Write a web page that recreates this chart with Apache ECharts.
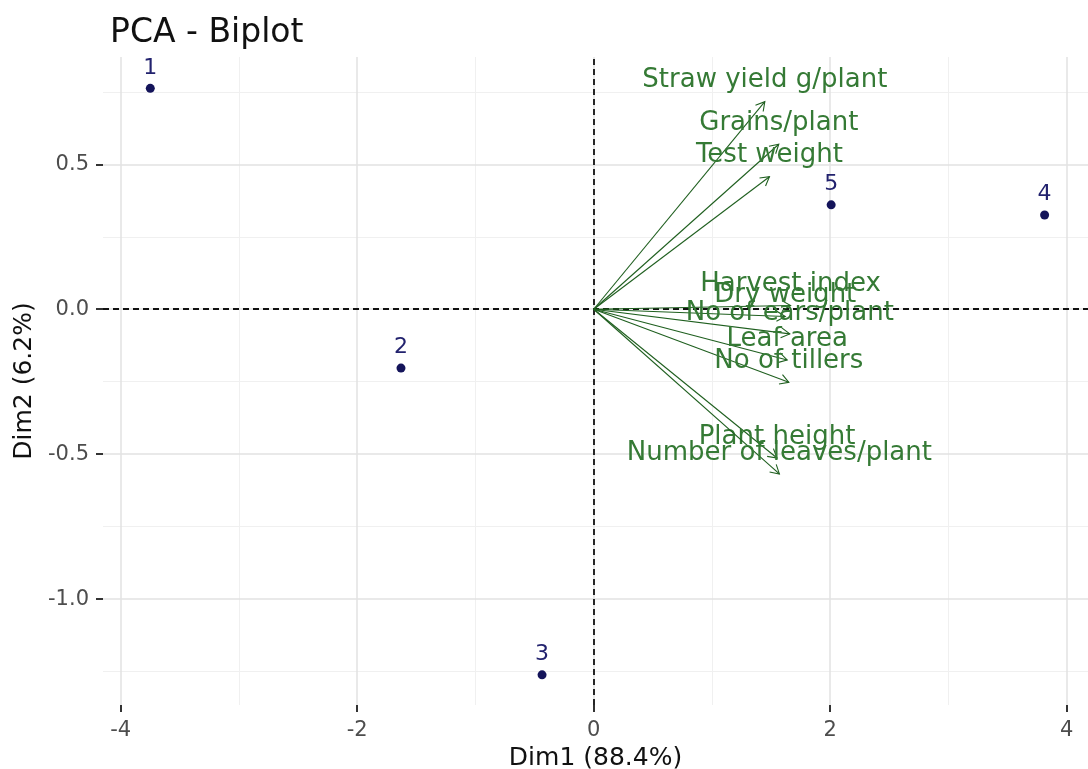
<!DOCTYPE html>
<html>
<head>
<meta charset="utf-8">
<script src="https://cdn.jsdelivr.net/npm/echarts@6/dist/echarts.min.js"></script>
<style>
html,body{margin:0;padding:0;background:#fff;}
#chart{width:1088px;height:769px;}
</style>
</head>
<body>
<div id="chart"></div>
<script>
// Individuals (Dim1, Dim2)
const indNames = ['1', '2', '3', '4', '5'];
const indDim1 = [-3.75, -1.63, -0.437, 3.813, 2.008];
const indDim2 = [0.762, -0.203, -1.261, 0.325, 0.36];

// Variables (arrow tips)
const varNames = ['Straw yield g/plant', 'Grains/plant', 'Test weight', 'Harvest index', 'Dry weight',
  'No of ears/plant', 'Leaf area', 'No of tillers', 'Plant height', 'Number of leaves/plant'];
const varDim1 = [1.447, 1.565, 1.486, 1.665, 1.62, 1.658, 1.636, 1.65, 1.55, 1.57];
const varDim2 = [0.716, 0.569, 0.457, 0.013, -0.025, -0.085, -0.175, -0.252, -0.513, -0.568];

// Axis ticks / grid
const xTicks = [-4, -2, 0, 2, 4];
const xMinor = [-3, -1, 1, 3];
const yTicks = [-1.0, -0.5, 0.0, 0.5];
const yMinor = [-1.25, -0.75, -0.25, 0.25, 0.75];

const X_MIN = -4.15, X_MAX = 4.18, Y_MIN = -1.365, Y_MAX = 0.87;

const FONT = 'DejaVu Sans';
const varTextColor = '#357A35';
const varLineColor = '#1F5F1F';

const gridLineData = [];
xMinor.forEach(v => gridLineData.push({xAxis: v, lineStyle: {color: '#F0F0F0', width: 1, type: 'solid'}}));
yMinor.forEach(v => gridLineData.push({yAxis: v, lineStyle: {color: '#F0F0F0', width: 1, type: 'solid'}}));
xTicks.forEach(v => gridLineData.push({xAxis: v, lineStyle: {color: '#E2E2E2', width: 1.5, type: 'solid'}}));
yTicks.forEach(v => gridLineData.push({yAxis: v, lineStyle: {color: '#E2E2E2', width: 1.5, type: 'solid'}}));

const chart = echarts.init(document.getElementById('chart'), null, {renderer: 'canvas'});

const option = {
  backgroundColor: '#ffffff',
  animation: false,
  title: {
    text: 'PCA - Biplot',
    left: 105,
    top: 12,
    textStyle: {fontFamily: FONT, fontSize: 33, fontWeight: 'normal', color: '#111'}
  },
  grid: {left: 103, right: 0, top: 57, bottom: 64, containLabel: false, outerBoundsMode: 'none'},
  xAxis: {
    type: 'value',
    min: X_MIN, max: X_MAX,
    name: 'Dim1 (88.4%)',
    nameLocation: 'middle',
    nameGap: 41,
    nameTextStyle: {fontFamily: FONT, fontSize: 25, color: '#111'},
    axisLine: {show: false, onZero: false},
    axisTick: {show: true, customValues: xTicks, length: 7, lineStyle: {color: '#333', width: 2}},
    axisLabel: {customValues: xTicks, margin: 15, fontFamily: FONT, fontSize: 21, color: '#4D4D4D',
      formatter: v => String(v)},
    splitLine: {show: false}
  },
  yAxis: {
    type: 'value',
    min: Y_MIN, max: Y_MAX,
    name: 'Dim2 (6.2%)',
    nameLocation: 'middle',
    nameGap: 66,
    nameRotate: 90,
    nameTextStyle: {fontFamily: FONT, fontSize: 25, color: '#111'},
    axisLine: {show: false, onZero: false},
    axisTick: {show: true, customValues: yTicks, length: 7, lineStyle: {color: '#333', width: 2}},
    axisLabel: {customValues: yTicks, margin: 14, fontFamily: FONT, fontSize: 21, color: '#4D4D4D',
      formatter: v => v.toFixed(1)},
    splitLine: {show: false}
  },
  series: [
    {
      type: 'scatter',
      data: [],
      silent: true,
      z: 1,
      markLine: {
        silent: true,
        z: 1,
        symbol: ['none', 'none'],
        label: {show: false},
        animation: false,
        data: gridLineData
      }
    },
    {
      type: 'scatter',
      data: [],
      silent: true,
      z: 2,
      markLine: {
        silent: true,
        z: 2,
        symbol: ['none', 'none'],
        label: {show: false},
        animation: false,
        lineStyle: {color: '#111', width: 1.8, type: [6, 4]},
        data: [{xAxis: 0}, {yAxis: 0}]
      }
    },
    {
      type: 'custom',
      z: 3,
      silent: true,
      data: varNames.map((n, i) => [varDim1[i], varDim2[i], n]),
      renderItem: function (params, api) {
        const p0 = api.coord([0, 0]);
        const p1 = api.coord([api.value(0), api.value(1)]);
        const ang = Math.atan2(p1[1] - p0[1], p1[0] - p0[0]);
        const L = 10, a = Math.PI / 6;
        const h1 = [p1[0] - L * Math.cos(ang - a), p1[1] - L * Math.sin(ang - a)];
        const h2 = [p1[0] - L * Math.cos(ang + a), p1[1] - L * Math.sin(ang + a)];
        const name = varNames[params.dataIndex];
        return {
          type: 'group',
          children: [
            {type: 'line', shape: {x1: p0[0], y1: p0[1], x2: p1[0], y2: p1[1]},
              style: {stroke: varLineColor, lineWidth: 1.1}},
            {type: 'polyline', shape: {points: [h1, p1, h2]},
              style: {stroke: varLineColor, lineWidth: 1.1, fill: null}},
            {type: 'text', x: p1[0], y: p1[1] - 21,
              style: {text: name, fill: varTextColor, font: '26px "' + FONT + '"',
                textAlign: 'center', textVerticalAlign: 'middle'}}
          ]
        };
      }
    },
    {
      type: 'scatter',
      z: 4,
      silent: true,
      symbol: 'circle',
      symbolSize: 9,
      itemStyle: {color: '#14145A', opacity: 1},
      data: indNames.map((n, i) => [indDim1[i], indDim2[i], n]),
      label: {
        show: true,
        position: 'top',
        distance: 5,
        formatter: p => p.value[2],
        fontFamily: FONT,
        fontSize: 22,
        color: '#22226E',
        opacity: 1
      }
    }
  ]
};
chart.setOption(option);
</script>
</body>
</html>
